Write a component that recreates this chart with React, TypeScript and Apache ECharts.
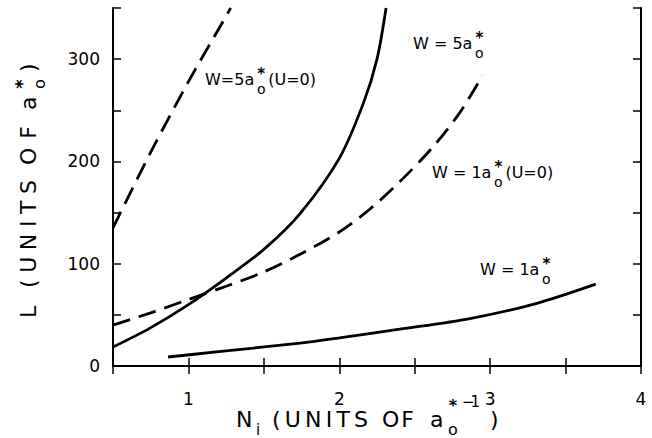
import React, { useEffect, useRef } from "react";
import * as echarts from "echarts";

// W = 5 a0* (U = 0), dashed
const w5U0: number[][] = [
  [0.5, 135], [0.75, 209], [1.0, 278], [1.23, 337], [1.28, 350],
];
// W = 5 a0*, solid
const w5: number[][] = [
  [0.5, 18.5], [0.745, 37], [1.0, 60], [1.25, 86], [1.5, 114],
  [1.74, 149], [2.0, 203], [2.16, 257], [2.25, 300], [2.31, 350],
];
// W = 1 a0* (U = 0), dashed
const w1U0: number[][] = [
  [0.5, 40], [0.75, 52], [1.0, 65], [1.25, 78], [1.5, 92],
  [1.75, 110], [2.0, 131], [2.2, 153], [2.4, 180], [2.62, 214],
  [2.8, 248], [2.95, 284],
];
// W = 1 a0*, solid
const w1: number[][] = [
  [0.865, 8.8], [1.2, 14], [1.74, 22.4], [2.0, 27.5], [2.4, 36],
  [2.866, 46.4], [3.31, 61.3], [3.7, 80],
];

const xMin = 0.5, xMax = 4, xStep = 0.5;
const yMin = 0, yMax = 350, yStep = 50;

const FONT = "DejaVu Sans";

const ctx = typeof document !== "undefined" ? document.createElement("canvas").getContext("2d") : null;
function cw(ch: string, size: number, weight = "normal") {
  if (!ctx) return size * 0.6 * ch.length;
  ctx.font = `${weight} ${size}px "${FONT}"`;
  return ctx.measureText(ch).width;
}

function txt(text: string, x: number, y: number, size: number, opts: any = {}) {
  return {
    type: "text",
    x,
    y,
    silent: true,
    style: {
      text,
      fontSize: size,
      fontFamily: FONT,
      fontWeight: opts.weight || "normal",
      fill: "#000",
      align: opts.align || "left",
      verticalAlign: "middle",
    },
  };
}

// place characters spread from x0 to x1 (left edge to right edge)
function span(str: string, x0: number, x1: number, y: number, size: number) {
  const chars = Array.from(str);
  const widths = chars.map((c) => cw(c, size));
  const total = widths.reduce((a, b) => a + b, 0);
  const gap = chars.length > 1 ? (x1 - x0 - total) / (chars.length - 1) : 0;
  const els: any[] = [];
  let cx = x0;
  chars.forEach((c, i) => {
    if (c !== " ") els.push(txt(c, cx, y, size));
    cx += widths[i] + gap;
  });
  return els;
}

function star(cx: number, cy: number, size: number) {
  return txt("*", cx, cy + size * 0.28, size, { align: "center", weight: "bold" });
}

// curve label: main text, stacked * over o, then optional rest
function curveLabel(main: string, x: number, y: number, rest?: string) {
  const size = 16;
  const w = cw(main, size);
  const sx = x + w + 7;
  const els: any[] = [
    txt(main, x, y, size),
    star(sx, y - 9, 15),
    txt("o", sx, y + 10, 14, { align: "center" }),
  ];
  if (rest) els.push(txt(rest, sx + 7, y, size));
  return els;
}

export default function App() {
  const ref = useRef<HTMLDivElement>(null);
  useEffect(() => {
    const chart = echarts.init(ref.current!, null, { renderer: "svg" });

    const axisLine = { show: true, lineStyle: { color: "#000", width: 2 } };
    const tick = { show: true, inside: true, length: 8, lineStyle: { color: "#000", width: 1.5 } };

    const graphics: any[] = [];
    graphics.push(
      ...curveLabel("W=5a", 205, 79, "(U=0)"),
      ...curveLabel("W = 5a", 413, 43),
      ...curveLabel("W = 1a", 432, 172, "(U=0)"),
      ...curveLabel("W = 1a", 480, 269),
    );

    // x axis title
    graphics.push(
      ...span("N", 236, 253, 419, 22),
      txt("i", 256, 430, 15),
      ...span("(UNITS", 272, 368, 419, 22),
      ...span("OF", 382, 414, 419, 22),
      ...span("a", 430, 444, 419, 22),
      star(453, 401, 16),
      ...span("\u22121", 462, 480, 402, 15),
      txt("o", 453, 429, 16, { align: "center" }),
      ...span(")", 490, 498, 419, 22),
    );

    // y axis title (rotated group). local x runs up the screen, local y runs right.
    const ox = 28, oy = 318;
    const yEls: any[] = [
      ...span("L", 0, 14, 0, 22),
      ...span("(UNITS", 30, 138, 0, 22),
      ...span("OF", 153, 192, 0, 22),
      ...span("a", 208, 222, 0, 22),
      star(234, -12, 18),
      txt("o", 234, 11, 16, { align: "center" }),
      ...span(")", 246, 254, 0, 22),
    ];
    graphics.push({ type: "group", x: ox, y: oy, rotation: Math.PI / 2, children: yEls });

    const lineSeries = (name: string, data: number[][], dashed: boolean) => ({
      type: "line",
      name,
      data,
      showSymbol: false,
      smooth: 0.3,
      lineStyle: { color: "#000", width: 2.8, type: dashed ? [18, 9] : "solid" },
    });

    chart.setOption({
      animation: false,
      backgroundColor: "#fff",
      grid: { left: 113, right: 11, top: 8, bottom: 72, containLabel: false },
      xAxis: [
        {
          type: "value", min: xMin, max: xMax, interval: xStep, position: "bottom",
          axisLine, axisTick: tick, splitLine: { show: false },
          axisLabel: {
            margin: 24, fontSize: 17, fontFamily: FONT, color: "#000",
            formatter: (v: number) => (Math.abs(v - Math.round(v)) < 1e-6 ? String(Math.round(v)) : ""),
          },
        },
        {
          type: "value", min: xMin, max: xMax, interval: xStep, position: "top",
          axisLine, axisTick: tick, splitLine: { show: false }, axisLabel: { show: false },
        },
      ],
      yAxis: [
        {
          type: "value", min: yMin, max: yMax, interval: yStep, position: "left",
          axisLine, axisTick: tick, splitLine: { show: false },
          axisLabel: {
            margin: 13, fontSize: 17, fontFamily: FONT, color: "#000",
            formatter: (v: number) => (v % 100 === 0 ? String(v) : ""),
          },
        },
        {
          type: "value", min: yMin, max: yMax, interval: yStep, position: "right",
          axisLine, axisTick: tick, splitLine: { show: false }, axisLabel: { show: false },
        },
      ],
      series: [
        lineSeries("W=5a0*(U=0)", w5U0, true),
        lineSeries("W=5a0*", w5, false),
        lineSeries("W=1a0*(U=0)", w1U0, true),
        lineSeries("W=1a0*", w1, false),
      ],
      graphic: graphics,
    });

    return () => chart.dispose();
  }, []);
  return (
    <div
      ref={ref}
      style={{ position: "absolute", left: 0, top: 0, width: 652, height: 438, background: "#fff" }}
    />
  );
}
